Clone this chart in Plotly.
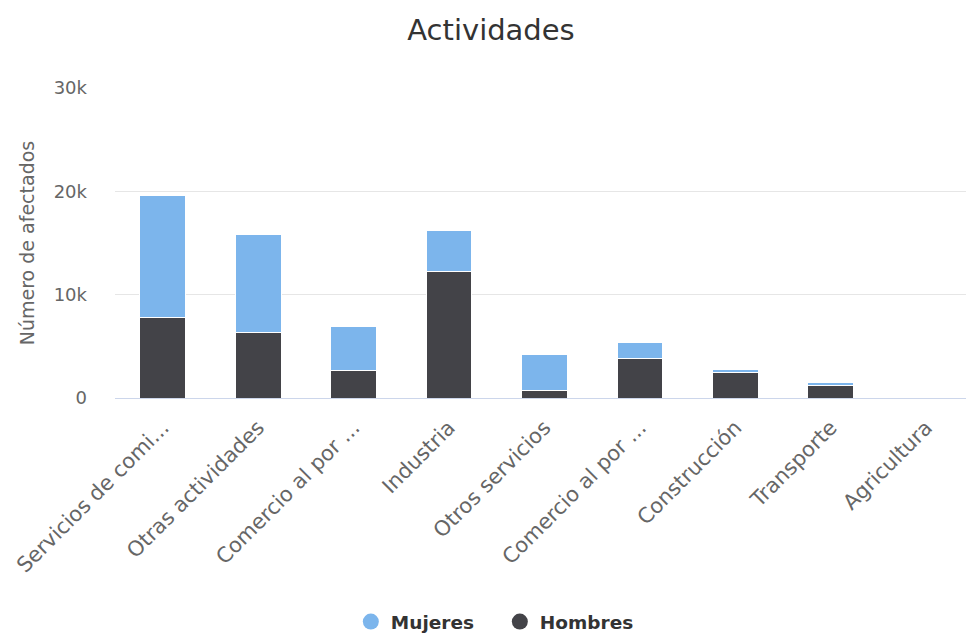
import plotly.graph_objects as go

categories = ["Servicios de comidas y bebidas", "Otras actividades", "Comercio al por menor",
              "Industria", "Otros servicios", "Comercio al por mayor", "Construcción",
              "Transporte", "Agricultura"]
tick_labels = ["Servicios de comi...", "Otras actividades", "Comercio al por ...",
               "Industria", "Otros servicios", "Comercio al por ...", "Construcción",
               "Transporte", "Agricultura"]
hombres = [7750, 6350, 2700, 12200, 700, 3800, 2500, 1200, 40]
mujeres = [11800, 9450, 4250, 4050, 3550, 1600, 300, 300, 20]

c_muj = "#7cb5ec"
c_hom = "#434348"
font = "DejaVu Sans"

fig = go.Figure()
fig.add_trace(go.Bar(x=categories, y=hombres, name="Hombres", marker=dict(color=c_hom, line=dict(color="white", width=1)),
                     showlegend=False, width=0.48))
fig.add_trace(go.Bar(x=categories, y=mujeres, name="Mujeres", marker=dict(color=c_muj, line=dict(color="white", width=1)),
                     showlegend=False, width=0.48))
fig.add_trace(go.Scatter(x=[None], y=[None], mode="markers", name="Mujeres",
                         marker=dict(color=c_muj, size=18, symbol="circle")))
fig.add_trace(go.Scatter(x=[None], y=[None], mode="markers", name="Hombres",
                         marker=dict(color=c_hom, size=18, symbol="circle")))

fig.update_layout(
    barmode="stack",
    width=966, height=627,
    paper_bgcolor="white", plot_bgcolor="white",
    margin=dict(l=107, r=0, t=80, b=237),
    font=dict(family=font, color="#666666"),
    title=dict(text="Actividades", x=0.5, xanchor="center", y=0.965, yanchor="middle",
               font=dict(size=29, color="#333333", family=font)),
    xaxis=dict(tickmode="array", tickvals=categories, ticktext=tick_labels, tickangle=-45,
               tickfont=dict(size=21, color="#666666"), showline=True, linecolor="#ccd6eb",
               linewidth=1, showgrid=False, ticks="", range=[-0.5, 8.5], automargin=False,
               ticklabelstandoff=8),
    yaxis=dict(range=[0, 30000], tickvals=[0, 10000, 20000, 30000], ticktext=["0", "10k", "20k", "30k"],
               gridcolor="#e6e6e6", tickfont=dict(size=18, color="#666666"), zeroline=False,
               ticklabelstandoff=27, automargin=False,
               title=dict(text="Número de afectados", font=dict(size=19, color="#666666"), standoff=14)),
    legend=dict(orientation="h", x=0.448, xanchor="center", y=0.0207, yanchor="middle",
                yref="container",
                font=dict(size=18.5, color="#333333", family=font, weight="bold"),
                traceorder="normal", itemsizing="trace", entrywidth=104),
)
fig.write_html("out.html")
